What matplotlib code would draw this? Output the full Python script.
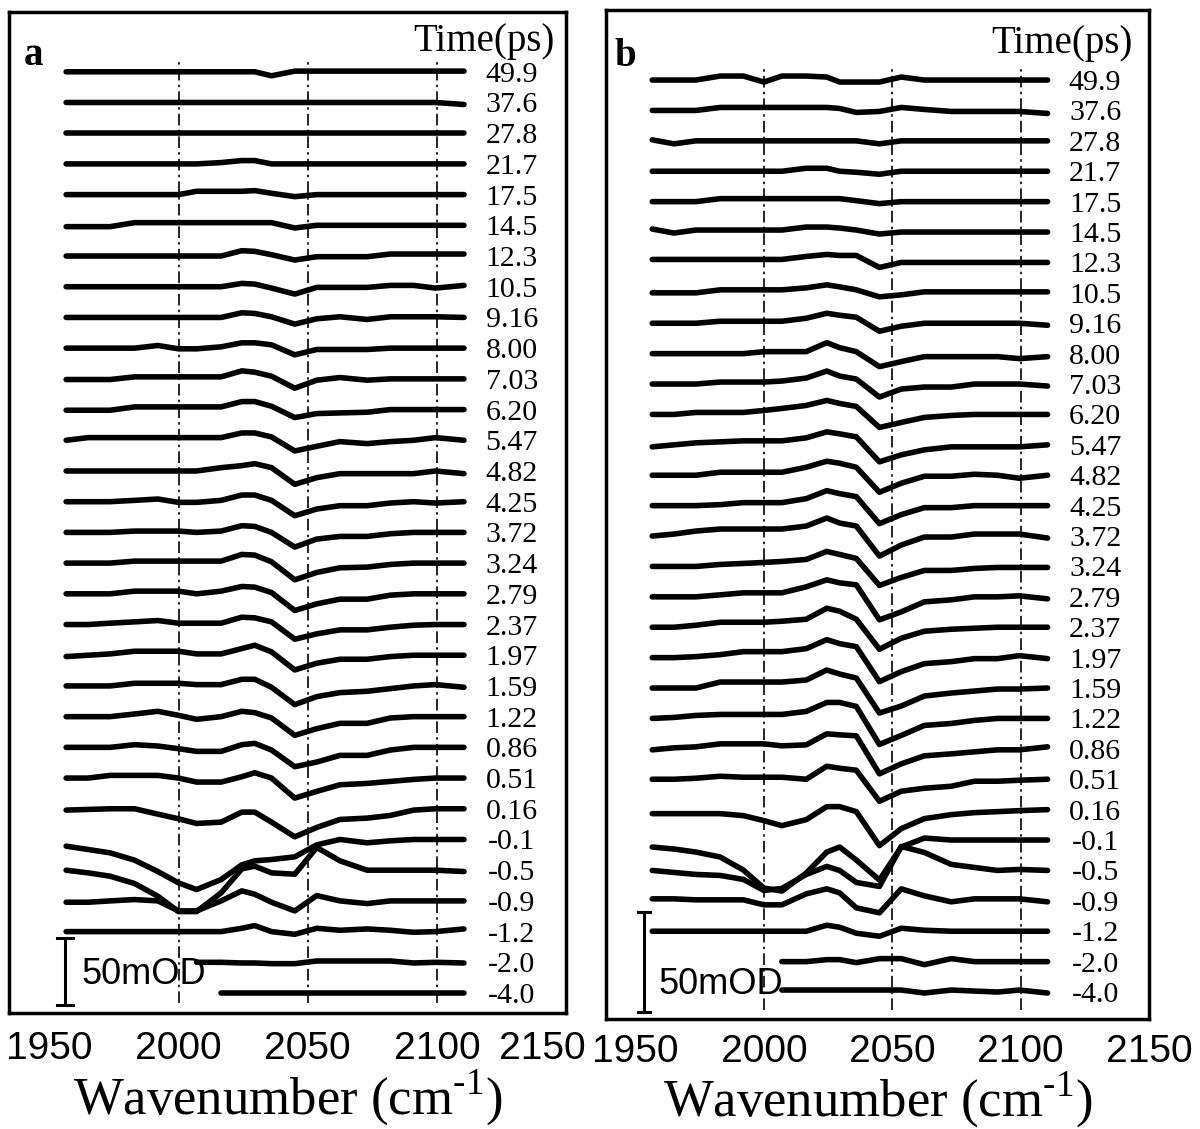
import numpy as np
import matplotlib.pyplot as plt
from matplotlib.transforms import offset_copy, ScaledTranslation

plt.rcParams['mathtext.fontset'] = 'custom'
plt.rcParams['mathtext.rm'] = 'Liberation Serif'

SERIF = 'Liberation Serif'
SANS = 'Liberation Sans'

# probe wavenumbers (cm-1)
wavenumber = [1956.5, 1965, 1973.5, 1983, 1992, 2000, 2007, 2016.5, 2024.5, 2029.5,
              2036, 2045, 2053.5, 2062.5, 2073, 2082, 2091, 2099.5, 2110.5]

# delay times, top trace first
times = ['49.9', '37.6', '27.8', '21.7', '17.5', '14.5', '12.3', '10.5', '9.16', '8.00',
         '7.03', '6.20', '5.47', '4.82', '4.25', '3.72', '3.24', '2.79', '2.37', '1.97',
         '1.59', '1.22', '0.86', '0.51', '0.16', '-0.1', '-0.5', '-0.9', '-1.2', '-2.0', '-4.0']

xticks = [1950, 2000, 2050, 2100, 2150]
guide_lines = [2000, 2050, 2100]

nan = np.nan

# panel a: transient absorbance (mOD), one row per delay
spectra_a = [
    [0, 0, 0, 0, 0, 0, 0, 0, 0, 0, -3, 0.5, 0.5, 0.5, 0.5, 0.5, 0.5, 0.5, 0.5],
    [0, 0, 0, 0, 0, 0, 0, 0, 0, 0, 0, 0, 0, 0, 0, 0, 0, 0, -1.5],
    [0, 0, 0, 0, 0, 0, 0, 0, 0, 0, 0, 0, 0, 0, 0, 0, 0, 0, 0],
    [0, 0, 0, 0, 0, 0, 0, 1, 2.5, 2.5, 0, 0, 0, 0, 0, 0, 0, 0, 0],
    [0, 0, 0, 0, 0, 0, 2.5, 2.5, 2.5, 3, 1, -1.5, 0, 0, 0, 0, 0, 0, 0],
    [-1, -1, -1, 2, 2, 2, 2, 2, 2, 2, 2, -2, 0, 0, 0, 0, 0, 0, 0],
    [0, 0, 0, 0, 0, 0, 0, 0, 4, 3.5, 1, -3, -0.5, -0.5, -0.5, 1.5, 1.5, 1.5, 1.5],
    [0, 0, 0, 0, 0, 0, 0, 0, 2.5, 2, -1, -5.5, -0.5, -0.5, -0.5, 1, 1, -1, 1],
    [0, 0, 0, 0, 0, 0, 0, 0, 3.5, 3, 0.5, -5, -1, 0.5, -1.5, 0.5, 0.5, 0.5, 0],
    [0, 0, 0, 0, 2, -0.5, -0.5, 1, 4, 4, 2.5, -5, -1, -1, -1, 0, 0, 0, 0],
    [-0.5, -0.5, -0.5, 1.5, 1.5, 1.5, 1.5, 1.5, 6, 5, 2, -7, -1, 1, -1, 0, 0, 0, 0],
    [-0.5, -0.5, -0.5, 2, 2, 2, 2, 2, 6, 6, 2.5, -6, -3, -2.5, -2, 0, 0, 0, 0],
    [0, 2, 2, 2, 2, 2, 2, 2, 5.5, 5.5, 2.5, -8, -4.5, -1, -2.5, -1, 0, 2, 0],
    [0, 0, 0, 0, 0, 0, 0, 2.5, 4, 5.5, 2.5, -10, -5, -2, -2, -2, -2, 0, -2],
    [0, 0, 0, 1, 2, -0.5, -0.5, 1, 5, 5, 1, -10.5, -5.5, -3, -3, -1, 0, -1, 0],
    [0, 0, 0, 1, 1, 1, 0, 1, 5, 4.5, 0, -11, -5, -3, -3, -1, 0, 0, 0],
    [0, 0, 0, 1.5, 1.5, 1.5, 1.5, 1.5, 6.5, 6, 1, -12.5, -7, -3.5, -3, -1, 0, 0, 0],
    [0, 0, 0, 2, 2, 2, 0, 2, 5.5, 5, 1, -12.5, -7.5, -4, -4, -1, 0, 0, 0],
    [0, 0, 1, 2, 3, 1, 1, 1, 5.5, 5, 2, -11, -7, -4, -4, -2, -0.5, 0, 0],
    [-1, 0, 1, 3, 3, 3, 1, 1, 5, 7.5, 2.5, -11, -6, -3, -3, -1, 0, 0, 0],
    [0, 0, 0, 2, 2, 2, 1, 1, 5, 5, -1, -14, -8, -5, -4, -2, 0, 1, -1],
    [0, 0, 0, 2, 4, 1, -2, 0, 4, 3, -1, -14, -9, -5, -5, -1, 0, 0, 0],
    [0, 0, 0, 2, 1, -1, -3, -3, 2, 3, -2, -14.5, -11, -6, -6, -2, 0, 0, 0],
    [0, 0, 2, 2, 2, 0, -3, -3, 1, 4, 0, -15, -10, -5, -4, -2.5, -1, 0, 0],
    [-1, -0.5, 0, 0, -4, -7.5, -11, -10, -2.5, -2.5, -10, -21, -14, -8, -7, -5, -1, 0, 0],
    [-5, -7.5, -10, -15.5, -24, -32.5, -37.5, -30, -19, -16, -15, -13, -4, 0, -2.5, -1, 0, 0, 0],
    [0, -2, -4.5, -10, -19.5, -31, -31, -17, 1, 3, -2, -3, 17, 7, 0, 0, 0, 0, -1],
    [-1, -1, 0, 1, 0, -7.5, -7.5, 0, 7.5, 5, -1, -7.5, 4, 0, -2, 0, 0, 0, 0],
    [0, 0, 0, 0, 0, 0, 0, 0, 2.5, 4.5, 0, -2, 2.5, 1, 2, 1, -0.5, 0, 2],
    [nan, nan, nan, nan, nan, nan, 0, 0, -0.5, -0.5, -1, -1, 1, 1, 1, 1, -0.5, 0, -0.5],
    [nan, nan, nan, nan, nan, nan, nan, 0, 0, 0, 0, 0, 0, 0, 0, 0, 0, 0, 0],
]

# panel b: transient absorbance (mOD), one row per delay
spectra_b = [
    [0, 0, 0, 2, 2, -1, 2, 2, 1.5, -1, -1, -1, 1.5, 0, 0, 0, 0, 0, 0],
    [0, 0, 0, 1.5, 1.5, 1.5, 1.5, 1.5, 1.5, 1, -1, -0.5, 1.5, 0.5, -0.5, -0.5, -0.5, -0.5, -1.5],
    [0.5, -1.5, 0, 0, 0, 0, 0, 0, 0, 0, 0, -1.5, 0, 0, 0, 0, 0, 0, 0],
    [0, 0, 0, 0, 0, 0, 0, 1.5, 1.5, 0, -0.5, -1.5, 0, 0, 0, 0, 0, 0, 0],
    [0, 0, 0, 1.5, 1.5, 1.5, 1.5, 1.5, 1.5, 1.5, 0.5, -1, 0, 0, 0, 0, 0, 0, 0],
    [1.5, -0.5, 1, 1, 1, 1, 1, 2.5, 2.5, 2, 1, -1, 0, 0, 0, 0, 0, 0, 0],
    [1.5, 1.5, 1.5, 1.5, 1.5, 1.5, 1.5, 3, 4, 3.5, 3.5, -2.5, 0, 0, 0, 0, 0, 0, 0],
    [0, 0, 0, 1.5, 1.5, 1.5, 1.5, 2.5, 4, 3, 1.5, -2, -1, 0.5, 0.5, 0.5, 0.5, 0.5, 0.5],
    [0, 0, 0, 1, 1, 1, 1, 2.5, 5, 4, 3, -4, -1.5, 0, 0, 0, 0, 0, -1],
    [0, 0, 0, 0, 0, 1, 1, 1, 5.5, 3, 1, -6.5, -4, -1.5, -1.5, -1.5, -1.5, -2.5, -1.5],
    [0, 0, 0, 1, 1, 1, 1.5, 3, 6.5, 4, 2.5, -6.5, -2.5, -1.5, -1.5, 0, 0, 0, -1],
    [0, 0, 1, 1, 1, 2, 3, 4.5, 7, 5.5, 4, -6.5, -4, -1.5, -0.5, 0, 0, 0, 0],
    [-1, 0, 1, 1.5, 2, 2, 2, 3.5, 6.5, 5.5, 4, -8.5, -5, -2.5, -1, -1, -1, -1, 0],
    [0, 0, 0, 1.5, 1.5, 1.5, 1.5, 4, 7, 6, 4, -8.5, -4, -0.5, -0.5, 0.5, 0, -1.5, 0],
    [0, 0, 0, 0.5, 1.5, 1.5, 1.5, 3.5, 7.5, 6, 4.5, -9, -4.5, -1, -1, 0, 0, 0, 0],
    [0, 1, 2.5, 3.5, 3.5, 3.5, 3.5, 5, 9, 6.5, 5, -10, -4.5, -0.5, -0.5, 1, 1, 1, -1],
    [0, 0, 0, 1, 1.5, 2, 2.5, 3.5, 7.5, 6, 4, -9.5, -5.5, -2, -2, -1, -0.5, -0.5, -0.5],
    [0, 0, 0, 1, 2, 2, 2, 5, 8.5, 7, 6, -11.5, -7.5, -2.5, -1.5, 0, 0, 0.5, -1],
    [0, 0, 1, 2.5, 2.5, 2.5, 3, 4, 9.5, 8, 4, -11, -5.5, -2, -1, -0.5, 0, 0, 0],
    [0, 0, 0.5, 1.5, 3, 3, 3, 4.5, 9, 7, 5.5, -12, -7, -3, -2, -0.5, -0.5, 1, -0.5],
    [0, 0, 0, 3, 3, 3, 3, 4, 9, 7, 5, -12.5, -9, -4, -2.5, -1.5, -0.5, -0.5, 0],
    [0, 0.5, 1.5, 2, 2, 2, 2, 3.5, 8, 8, 6, -13, -8.5, -3.5, -2.5, -1, 0, 0, 0],
    [-0.5, 0.5, 1, 2.5, 2.5, 2.5, 1.5, 2, 7.5, 7, 6.5, -12.5, -7.5, -3.5, -2.5, -1.5, -0.5, -0.5, 1],
    [0, 0, 0.5, 1.5, 1, 1, 1, 0, 6.5, 5.5, 4.5, -11, -6, -4.5, -3.5, -1, -1, -0.5, 0],
    [-2, -2, -2, -2, -3, -5.5, -8, -5, 1.5, 1.5, -1, -18, -9.5, -4.5, -2.5, -1.5, -1, -0.5, 0],
    [-3.5, -4.5, -6, -8.5, -15, -24, -25.5, -16.5, -6, -3.5, -10, -20, -3.5, 1, 0, 0, 0, 0, 0],
    [0, -1, -2, -2.5, -4.5, -10, -9, -2, 2, 0, -6, -8, 12, 9, 3, 1.5, 0, 0.5, 0],
    [1, 1, 0.5, 0.5, 0.5, -2, -2, 3.5, 6, 4, -3.5, -6, 6, 2.5, -0.5, 1, 1, 1, -0.5],
    [0, 0, 0, 0, 0, 0, 0, 0, 3, 2, -1, -2.5, 1.5, 0.5, 0, 0, 0, 0, 0],
    [nan, nan, nan, nan, nan, nan, 0, 0, 1, 1, -0.5, 1.5, 1.5, -1.5, 1.5, 0, 0, 0, 0],
    [nan, nan, nan, nan, nan, nan, 1, 1, 1, 1, 1, 1, 1, -0.5, 1, 0.5, 0, 1, -0.5],
]


fig = plt.figure(figsize=(12, 11.29), dpi=100)
ax_a = fig.add_axes([0.0071, 0.1027, 0.4646, 0.8867])
ax_b = fig.add_axes([0.505, 0.0974, 0.4525, 0.8937])


def draw_panel(ax, spectra, spacing, xlim, ylim, guide_y, bar_x, bar_y, bar_cap,
               bar_text_xy, letter, letter_xy, title_xy, xlabel_y, tick_pad):
    n = len(spectra)
    label_tr = offset_copy(ax.transData, fig=fig, x=0, y=-10, units='dots')
    for i, (t, row) in enumerate(zip(times, spectra)):
        base = (n - 1 - i) * spacing
        y = base + np.array(row, dtype=float)
        ax.plot(wavenumber, y, color='black', lw=4.0,
                solid_capstyle='round', solid_joinstyle='round')
        ax.text(2129, base, t, ha='center', va='baseline', fontsize=21.5,
                family=SERIF, transform=label_tr)

    # guide lines at 2000, 2050, 2100
    ax.vlines(guide_lines, guide_y[0], guide_y[1], colors='black', lw=1.2,
              linestyles=[(0, (7, 2.5, 1.5, 2.5))])

    # scale bar
    ax.plot([bar_x, bar_x], bar_y, color='black', lw=2.2)
    for yy in bar_y:
        ax.plot([bar_x - bar_cap, bar_x + bar_cap], [yy, yy], color='black', lw=2.2)
    ax.text(bar_text_xy[0], bar_text_xy[1], '50mOD', ha='left', va='center',
            fontsize=26, family=SANS)

    ax.text(letter_xy[0], letter_xy[1], letter, transform=ax.transAxes,
            fontsize=28, fontweight='bold', family=SERIF, va='baseline')
    ax.text(title_xy[0], title_xy[1], 'Time(ps)', transform=ax.transAxes,
            fontsize=28, family=SERIF, ha='right', va='baseline')

    ax.set_xlim(xlim)
    ax.set_ylim(ylim)
    ax.set_yticks([])
    ax.set_xticks(xticks)
    ax.set_xticklabels([str(v) for v in xticks], family=SANS, fontsize=28)
    ax.tick_params(axis='x', length=0, pad=tick_pad)
    for s in ax.spines.values():
        s.set_linewidth(2.5)

    ax.set_xlabel(r'Wavenumber (cm$^{\text{-1}}$)', family=SERIF, fontsize=38)
    ax.xaxis.set_label_coords(0.5, xlabel_y)
    ax.xaxis.label.set_va('baseline')


draw_panel(ax_a, spectra_a, 23, (1934.2, 2149.4), (-15, 734.8), (-7.5, 699),
           1956, [-9, 41], 3, (1962.5, 14), 'a', (0.028, 0.947), (0.980, 0.961),
           -0.101, 13)
draw_panel(ax_b, spectra_b, 15.2, (1938.5, 2149.8), (-13.5, 491), (-9, 462),
           1953.3, [-9.9, 40.1], 2.5, (1958.8, 4), 'b', (0.015, 0.945), (0.969, 0.957),
           -0.096, 11)

# last tick label of panel a sits a bit to the left, as in the original
lbl = ax_a.get_xticklabels()[-1]
lbl.set_transform(lbl.get_transform() + ScaledTranslation(-24 / 100, 0, fig.dpi_scale_trans))

fig.savefig('out.png', dpi=100, facecolor='white')
